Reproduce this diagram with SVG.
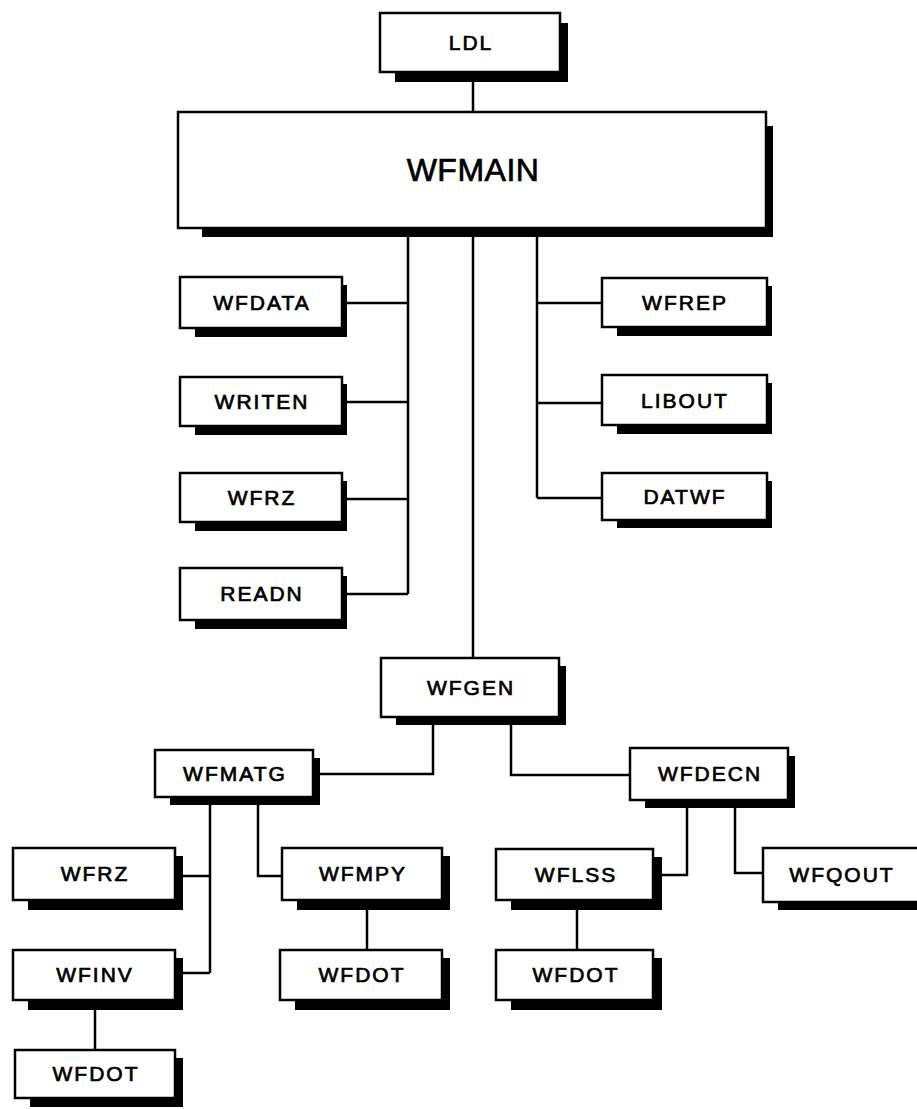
<svg xmlns="http://www.w3.org/2000/svg" width="917" height="1109" viewBox="0 0 917 1109">
<style>
.sh{fill:#000}
.bx{fill:#fff;stroke:#000;stroke-width:2.5}
.lb{font-family:"Liberation Sans",Arial,sans-serif;font-size:21px;letter-spacing:2px;text-anchor:middle;fill:#000;stroke:#000;stroke-width:0.7}
.big{font-size:32px;letter-spacing:0.5px}
.cn{fill:none;stroke:#000;stroke-width:2.5;stroke-linejoin:miter}
</style>
<rect width="917" height="1109" fill="#fff"/>
<g id="connectors">
<path class="cn" d="M473 82V112"/>
<path class="cn" d="M408 237V594M347 303H408M347 402H408M347 499H408M347 594H408"/>
<path class="cn" d="M537 237V498M537 303H602M537 403H602M537 498H602"/>
<path class="cn" d="M473 237V658"/>
<path class="cn" d="M433 725V774H320"/>
<path class="cn" d="M511 725V775H630"/>
<path class="cn" d="M210 805V973M183 876H210M183 973H210"/>
<path class="cn" d="M258 805V876H282"/>
<path class="cn" d="M687 808V875H662"/>
<path class="cn" d="M735 808V873H763"/>
<path class="cn" d="M95 1010V1050"/>
<path class="cn" d="M367 910V950"/>
<path class="cn" d="M577 910V950"/>
</g>
<g id="LDL"><rect class="sh" x="395" y="23" width="173" height="59"/><rect class="bx" x="380" y="13" width="180" height="59"/><text class="lb" x="471" y="50">LDL</text></g>
<g id="WFMAIN"><rect class="sh" x="202" y="126" width="571" height="111"/><rect class="bx" x="178" y="112" width="588" height="116"/><text class="lb big" x="473" y="181">WFMAIN</text></g>
<g id="WFDATA"><rect class="sh" x="195" y="285" width="152" height="52"/><rect class="bx" x="180" y="277" width="162" height="51"/><text class="lb" x="262" y="310">WFDATA</text></g>
<g id="WRITEN"><rect class="sh" x="195" y="384" width="152" height="51"/><rect class="bx" x="180" y="377" width="162" height="49"/><text class="lb" x="262" y="409">WRITEN</text></g>
<g id="WFRZ"><rect class="sh" x="195" y="481" width="152" height="50"/><rect class="bx" x="180" y="473" width="162" height="49"/><text class="lb" x="262" y="505">WFRZ</text></g>
<g id="READN"><rect class="sh" x="195" y="576" width="152" height="53"/><rect class="bx" x="180" y="568" width="162" height="52"/><text class="lb" x="262" y="601">READN</text></g>
<g id="WFREP"><rect class="sh" x="617" y="286" width="155" height="50"/><rect class="bx" x="602" y="278" width="165" height="49"/><text class="lb" x="685" y="310">WFREP</text></g>
<g id="LIBOUT"><rect class="sh" x="617" y="383" width="155" height="51"/><rect class="bx" x="602" y="375" width="165" height="50"/><text class="lb" x="685" y="408">LIBOUT</text></g>
<g id="DATWF"><rect class="sh" x="617" y="481" width="155" height="47"/><rect class="bx" x="602" y="473" width="165" height="47"/><text class="lb" x="685" y="504">DATWF</text></g>
<g id="WFGEN"><rect class="sh" x="396" y="666" width="170" height="59"/><rect class="bx" x="381" y="658" width="178" height="59"/><text class="lb" x="471" y="695">WFGEN</text></g>
<g id="WFMATG"><rect class="sh" x="170" y="758" width="150" height="47"/><rect class="bx" x="155" y="750" width="158" height="47"/><text class="lb" x="235" y="781">WFMATG</text></g>
<g id="WFDECN"><rect class="sh" x="645" y="756" width="150" height="52"/><rect class="bx" x="630" y="748" width="158" height="52"/><text class="lb" x="710" y="781">WFDECN</text></g>
<g id="WFRZ2"><rect class="sh" x="28" y="856" width="155" height="54"/><rect class="bx" x="13" y="848" width="162" height="52"/><text class="lb" x="95" y="881">WFRZ</text></g>
<g id="WFINV"><rect class="sh" x="28" y="958" width="155" height="52"/><rect class="bx" x="13" y="950" width="162" height="50"/><text class="lb" x="95" y="982">WFINV</text></g>
<g id="WFDOT1"><rect class="sh" x="30" y="1058" width="153" height="49"/><rect class="bx" x="15" y="1050" width="160" height="48"/><text class="lb" x="96" y="1081">WFDOT</text></g>
<g id="WFMPY"><rect class="sh" x="297" y="856" width="153" height="54"/><rect class="bx" x="282" y="848" width="160" height="52"/><text class="lb" x="363" y="881">WFMPY</text></g>
<g id="WFDOT2"><rect class="sh" x="295" y="958" width="155" height="52"/><rect class="bx" x="280" y="950" width="162" height="50"/><text class="lb" x="362" y="982">WFDOT</text></g>
<g id="WFLSS"><rect class="sh" x="511" y="857" width="151" height="53"/><rect class="bx" x="496" y="849" width="157" height="51"/><text class="lb" x="576" y="882">WFLSS</text></g>
<g id="WFDOT3"><rect class="sh" x="511" y="958" width="151" height="52"/><rect class="bx" x="496" y="950" width="157" height="50"/><text class="lb" x="576" y="982">WFDOT</text></g>
<g id="WFQOUT"><rect class="sh" x="778" y="856" width="148" height="54"/><rect class="bx" x="763" y="848" width="156" height="54"/><text class="lb" x="842" y="882">WFQOUT</text></g>
</svg>
